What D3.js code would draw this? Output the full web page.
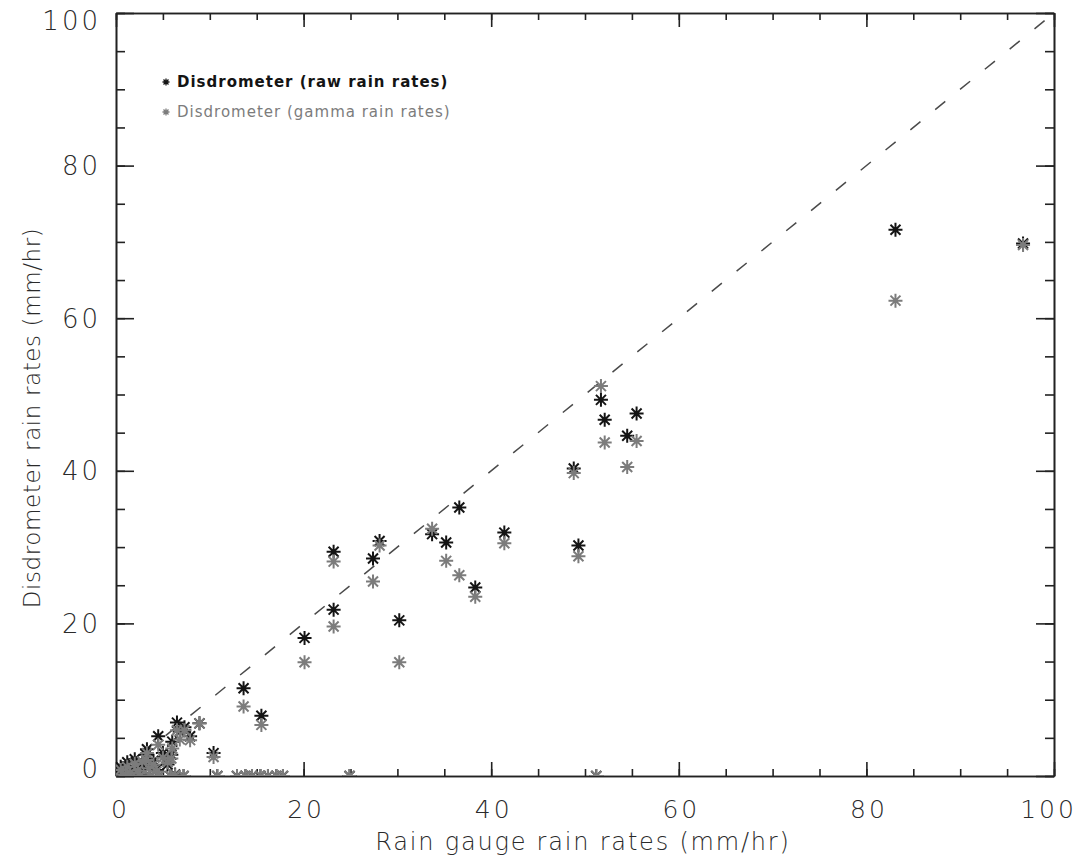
<!DOCTYPE html>
<meta charset="utf-8">
<style>
  body { margin: 0; background: #fff; }
  text { font-family: "DejaVu Sans", sans-serif; fill: #2a2a2a; }
  .axis path, .axis line { stroke: #222; stroke-width: 1.6; }
  .tick text { font-size: 26px; font-weight: 200; letter-spacing: 3px; fill: #2a2a2a; }
  .title { font-weight: 200; fill: #2a2a2a; }
  .legend text { font-size: 15px; letter-spacing: 1px; }
</style>
<body>
<script src="https://d3js.org/d3.v7.min.js"></script>
<script>
// rain gauge rates (x) and the two disdrometer estimates (y)
var gauge = [83.1, 96.7, 51.7, 52.1, 55.5, 54.5, 48.8, 49.3, 36.6, 35.2, 33.7, 38.3, 41.4,
             28.1, 27.4, 23.2, 23.2, 30.2, 20.1, 13.6, 15.5, 10.4, 4.5, 6.5, 8.9,
             0.5, 0.8, 1.2, 1.5, 2.0, 2.3, 2.8, 3.2, 3.5, 4.0, 4.3, 5.0, 5.5, 6.0, 6.8,
             7.3, 7.9, 5.9, 3.3, 1.0, 2.6, 6.3,
             3.6, 4.6, 5.8, 7.2, 10.8, 12.9, 13.8, 14.5, 15.4, 16.2, 17.1, 17.8, 24.9, 51.2];
var rawRate = [71.6, 69.8, 49.3, 46.7, 47.5, 44.6, 40.3, 30.2, 35.2, 30.6, 31.7, 24.7, 31.9,
               30.8, 28.5, 29.4, 21.8, 20.4, 18.1, 11.5, 7.9, 3.0, 5.2, 7.0, 6.9,
               1.2, 0.3, 1.8, 0.6, 2.2, 1.0, 1.6, 2.8, 1.2, 2.0, 0.8, 3.0, 1.5, 4.5, 5.8,
               6.4, 5.2, 2.8, 3.5, 0.1, 0.2, 0.2,
               0, 0, 0, 0, 0, 0, 0, 0, 0, 0, 0, 0, 0, 0];
var gammaRate = [62.3, 69.6, 51.1, 43.7, 43.9, 40.5, 39.7, 28.8, 26.3, 28.2, 32.4, 23.5, 30.5,
                 30.2, 25.5, 28.1, 19.6, 14.9, 14.9, 9.1, 6.7, 2.5, 4.1, 6.0, 6.9,
                 0.8, 0.2, 1.2, 0.4, 1.6, 0.7, 1.9, 2.1, 1.0, 1.5, 0.6, 2.4, 1.8, 3.6, 4.8,
                 6.0, 4.7, 2.3, 3.0, 0.0, 0.1, 0.1,
                 0, 0, 0, 0, 0, 0, 0, 0, 0, 0, 0, 0, 0, 0];
var seriesNames = ["Disdrometer (raw rain rates)", "Disdrometer (gamma rain rates)"];
var seriesColors = ["#141414", "#7c7c7c"];
var majorTicks = [0, 20, 40, 60, 80, 100];
var minorTicks = d3.range(0, 101, 5);

var pLeft = 116, pRight = 1054, pTop = 13, pBottom = 776;

var x = d3.scaleLinear().domain([0, 100]).range([pLeft, pRight]);
var y = d3.scaleLinear().domain([0, 100]).range([pBottom, pTop]);

var svg = d3.select("body").append("svg")
    .attr("width", 1085)
    .attr("height", 866);

svg.append("defs").append("clipPath").attr("id", "plot")
  .append("rect")
    .attr("x", pLeft).attr("y", pTop)
    .attr("width", pRight - pLeft).attr("height", pBottom - pTop);

// minor ticks on all four sides
svg.append("g").attr("class", "axis").attr("transform", "translate(0," + pBottom + ")")
    .call(d3.axisBottom(x).tickValues(minorTicks).tickSize(-7).tickSizeOuter(0).tickFormat(""));
svg.append("g").attr("class", "axis").attr("transform", "translate(0," + pTop + ")")
    .call(d3.axisTop(x).tickValues(minorTicks).tickSize(-7).tickSizeOuter(0).tickFormat(""));
svg.append("g").attr("class", "axis").attr("transform", "translate(" + pLeft + ",0)")
    .call(d3.axisLeft(y).tickValues(minorTicks).tickSize(-9).tickSizeOuter(0).tickFormat(""));
svg.append("g").attr("class", "axis").attr("transform", "translate(" + pRight + ",0)")
    .call(d3.axisRight(y).tickValues(minorTicks).tickSize(-9).tickSizeOuter(0).tickFormat(""));

// major ticks
var xAxis = svg.append("g").attr("class", "axis").attr("transform", "translate(0," + pBottom + ")")
    .call(d3.axisBottom(x).tickValues(majorTicks).tickSize(-14).tickSizeOuter(0).tickPadding(33));
svg.append("g").attr("class", "axis").attr("transform", "translate(0," + pTop + ")")
    .call(d3.axisTop(x).tickValues(majorTicks).tickSize(-14).tickSizeOuter(0).tickFormat(""));
var yAxis = svg.append("g").attr("class", "axis").attr("transform", "translate(" + pLeft + ",0)")
    .call(d3.axisLeft(y).tickValues(majorTicks).tickSize(-18).tickSizeOuter(0).tickPadding(15));
svg.append("g").attr("class", "axis").attr("transform", "translate(" + pRight + ",0)")
    .call(d3.axisRight(y).tickValues(majorTicks).tickSize(-18).tickSizeOuter(0).tickFormat(""));

xAxis.selectAll(".tick text").attr("dy", "0.35em")
    .style("font-size", "25px")
    .attr("dx", function(d) { return d == 0 ? 4 : (d == 100 ? -6 : 2); });
yAxis.selectAll(".tick text")
    .attr("dy", function(d) { return d == 0 ? "0.05em" : (d == 100 ? "0.62em" : "0.35em"); });

// 1:1 line
svg.append("line")
    .attr("x1", x(0)).attr("y1", y(0))
    .attr("x2", x(100)).attr("y2", y(100))
    .style("stroke", "#4a4a4a")
    .style("stroke-width", 1.5)
    .style("stroke-dasharray", "13,19");

var star = "M-7,0H7M0,-7V7M-5,-5L5,5M-5,5L5,-5";
var starSmall = "M-3.5,0H3.5M0,-3.5V3.5M-2.5,-2.5L2.5,2.5M-2.5,2.5L2.5,-2.5";

var pts = svg.append("g").attr("clip-path", "url(#plot)");
[rawRate, gammaRate].forEach(function(vals, k) {
  pts.append("g").selectAll("path")
    .data(gauge)
    .enter().append("path")
      .attr("transform", function(d, i) { return "translate(" + x(d) + "," + y(vals[i]) + ")"; })
      .attr("d", star)
      .style("fill", "none")
      .style("stroke", seriesColors[k])
      .style("stroke-width", 2);
});

// legend
var legend = svg.append("g").attr("class", "legend");
seriesNames.forEach(function(name, i) {
  var ly = 82 + i * 30;
  legend.append("path")
    .attr("transform", "translate(166," + ly + ")")
    .attr("d", starSmall)
    .style("fill", "none")
    .style("stroke", seriesColors[i])
    .style("stroke-width", 1.3);
  legend.append("text")
    .attr("x", 177).attr("y", ly + 5)
    .style("fill", seriesColors[i])
    .style("font-weight", i == 0 ? "bold" : "normal")
    .text(name);
});

// axis titles
svg.append("text").attr("class", "title")
    .attr("x", 583).attr("y", 850)
    .attr("text-anchor", "middle")
    .style("font-size", "24px")
    .style("letter-spacing", "1.8px")
    .text("Rain gauge rain rates (mm/hr)");
svg.append("text").attr("class", "title")
    .attr("transform", "translate(40,418) rotate(-90)")
    .attr("text-anchor", "middle")
    .style("font-size", "23px")
    .style("letter-spacing", "0.6px")
    .text("Disdrometer rain rates (mm/hr)");
</script>
</body>
